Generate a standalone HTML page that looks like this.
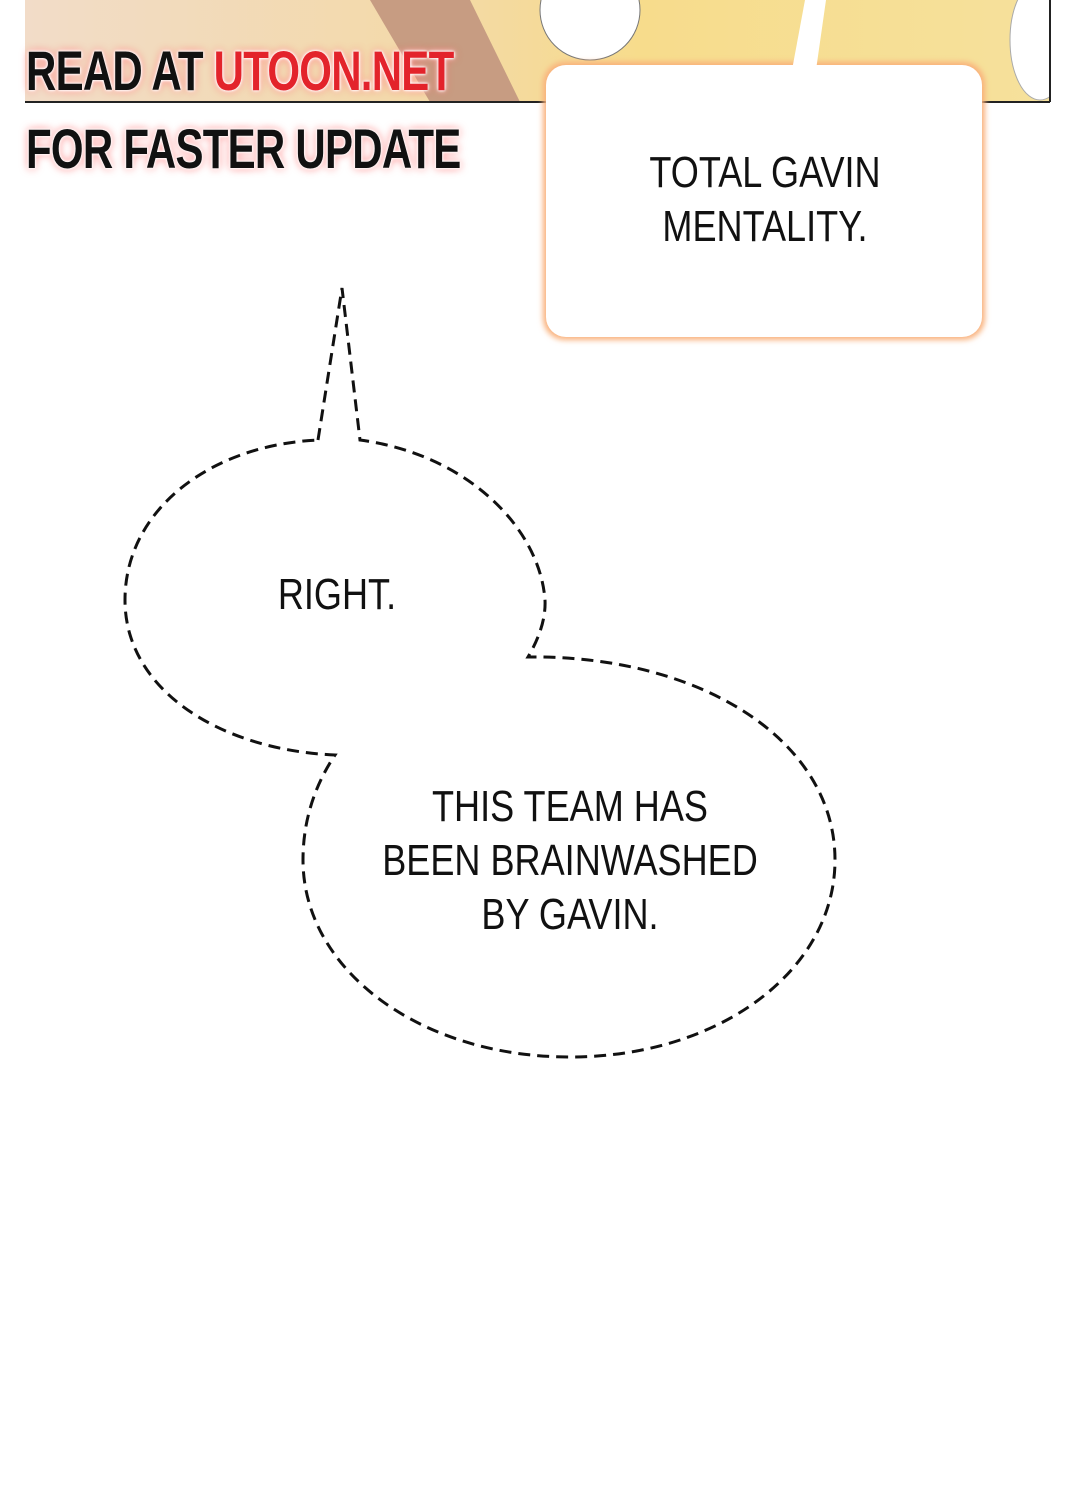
<!DOCTYPE html>
<html><head><meta charset="utf-8"><style>
html,body{margin:0;padding:0;background:#fff}
body{width:1080px;height:1500px;position:relative;overflow:hidden;font-family:"Liberation Sans",sans-serif}
.wm{position:absolute;left:26px;font-weight:bold;font-size:56px;letter-spacing:-1px;white-space:nowrap;transform:scaleX(0.75);transform-origin:left top;color:#111;text-shadow:0 0 3px #fff,0 0 3px #fff,0 0 6px #fff,0 0 10px #f66;}
.t{position:absolute;font-family:"Liberation Sans Narrow","Liberation Sans",sans-serif;color:#111;text-align:center;font-size:44px;line-height:54px;white-space:nowrap;transform:scaleX(0.82);}
</style></head><body>
<svg width="1080" height="1500" style="position:absolute;left:0;top:0">
<defs>
<linearGradient id="g" x1="0" x2="1" y1="0" y2="0">
<stop offset="0" stop-color="#f2dcc8"/><stop offset="0.4" stop-color="#f3d9a8"/><stop offset="0.6" stop-color="#f7dc8c"/><stop offset="1" stop-color="#f6e19c"/></linearGradient>
<filter id="gl"><feGaussianBlur stdDeviation="3"/></filter>
<clipPath id="cp"><rect x="25" y="0" width="1025" height="102"/></clipPath>
</defs>
<g clip-path="url(#cp)">
<rect x="25" y="0" width="1025" height="102" fill="url(#g)"/>
<polygon points="370,0 470,0 520,102 430,102" fill="#c79c82"/>
<ellipse cx="590" cy="10" rx="50" ry="50" fill="#fff" stroke="#777"/>
<ellipse cx="1040" cy="40" rx="30" ry="60" fill="#fff" stroke="#aaa"/>
</g>
<line x1="25" y1="102" x2="1050" y2="102" stroke="#222" stroke-width="2"/>
<line x1="1050" y1="0" x2="1050" y2="102" stroke="#222" stroke-width="2"/>
<rect x="543" y="62" width="442" height="278" rx="22" fill="#f9b07a" filter="url(#gl)"/>
<rect x="546" y="65" width="436" height="272" rx="20" fill="#fff"/>
<polygon points="792,70 805,0 826,0 816,70" fill="#fff"/>
<path d="M318,440 L342,288 L360,440 C470,455 540,530 545,600 C546,620 538,640 528,657 C700,655 835,740 835,860 C835,970 720,1057 570,1057 C420,1057 303,970 303,860 C303,820 315,785 335,755 C220,750 125,690 125,600 C125,510 210,445 318,440 Z" fill="#fff" stroke="#111" stroke-width="3" stroke-dasharray="12,7"/>
</svg>
<div class="wm" style="top:38px">READ AT <span style="color:#e3232b">UTOON.NET</span></div>
<div class="wm" style="top:116px">FOR FASTER UPDATE</div>
<div class="t" style="left:465px;top:146px;width:600px">TOTAL GAVIN<br>MENTALITY.</div>
<div class="t" style="left:37px;top:568px;width:600px">RIGHT.</div>
<div class="t" style="left:270px;top:780px;width:600px">THIS TEAM HAS<br>BEEN BRAINWASHED<br>BY GAVIN.</div>
</body></html>
